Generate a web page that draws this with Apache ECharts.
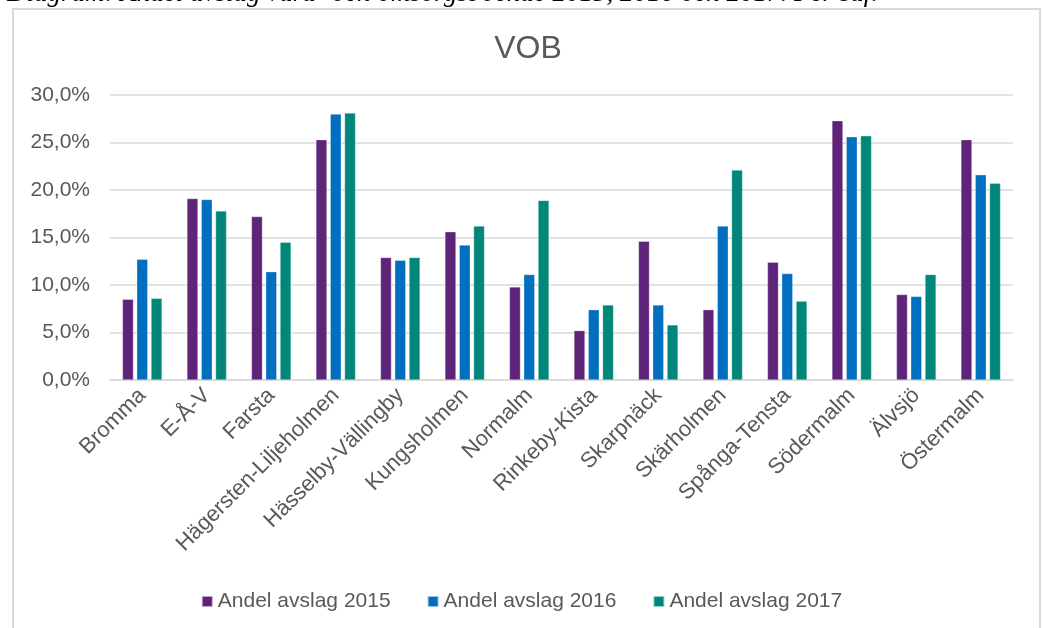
<!DOCTYPE html>
<html>
<head>
<meta charset="utf-8">
<script src="https://cdn.jsdelivr.net/npm/echarts@6/dist/echarts.min.js"></script>
<style>
html,body{margin:0;padding:0;background:#fff;}
#main{width:1043px;height:628px;}
</style>
</head>
<body>
<div id="main"></div>
<script>
const categories = ['Bromma','E-Å-V','Farsta','Hägersten-Liljeholmen','Hässelby-Vällingby','Kungsholmen','Normalm','Rinkeby-Kista','Skarpnäck','Skärholmen','Spånga-Tensta','Södermalm','Älvsjö','Östermalm'];
const seriesNames = ['Andel avslag 2015','Andel avslag 2016','Andel avslag 2017'];
const values2015 = [8.5, 19.1, 17.2, 25.3, 12.9, 15.6, 9.8, 5.2, 14.6, 7.4, 12.4, 27.3, 9.0, 25.3];
const values2016 = [12.7, 19.0, 11.4, 28.0, 12.6, 14.2, 11.1, 7.4, 7.9, 16.2, 11.2, 25.6, 8.8, 21.6];
const values2017 = [8.6, 17.8, 14.5, 28.1, 12.9, 16.2, 18.9, 7.9, 5.8, 22.1, 8.3, 25.7, 11.1, 20.7];
const yTicks = [0, 5, 10, 15, 20, 25, 30];
const captionText = 'Diagram: Andel avslag vård- och omsorgsboende 2015, 2016 och 2017. Per sdf.';
const titleText = 'VOB';
const colors = ['#5E2479', '#006FC0', '#00877A'];

const chart = echarts.init(document.getElementById('main'));
const textColor = '#595959';
const font = 'Liberation Sans, Arial, sans-serif';

chart.setOption({
  animation: false,
  color: colors,
  title: {
    text: titleText,
    left: 523,
    textAlign: 'center',
    top: 28,
    textStyle: {fontFamily: font, fontSize: 32, fontWeight: 'normal', color: textColor}
  },
  graphic: [
    {type: 'rect', shape: {x: 13, y: 9, width: 1027, height: 700}, style: {fill: 'none', stroke: '#d9d9d9', lineWidth: 2}, z: 0},
    {type: 'text', style: {x: 7, y: 7, text: captionText, font: 'italic 27px "Liberation Serif", "Times New Roman", serif', fill: '#000', textVerticalAlign: 'bottom'}, z: 10}
  ],
  legend: {
    data: seriesNames,
    bottom: 11,
    left: 'center',
    itemWidth: 11,
    itemHeight: 11,
    itemGap: 36,
    icon: 'rect',
    textStyle: {fontFamily: font, fontSize: 21, color: textColor}
  },
  grid: {left: 110, right: 30, top: 95, bottom: 248, containLabel: false},
  xAxis: {
    type: 'category',
    data: categories,
    axisTick: {show: false},
    axisLine: {lineStyle: {color: '#d9d9d9', width: 1.5}},
    axisLabel: {rotate: 45, interval: 0, fontFamily: font, fontSize: 22, color: textColor, margin: 12}
  },
  yAxis: {
    type: 'value',
    min: yTicks[0],
    max: yTicks[yTicks.length - 1],
    interval: yTicks[1] - yTicks[0],
    axisLine: {show: false},
    axisTick: {show: false},
    splitLine: {lineStyle: {color: '#d9d9d9', width: 1.5}},
    axisLabel: {
      fontFamily: font, fontSize: 21, color: textColor, margin: 20,
      formatter: v => v.toFixed(1).replace('.', ',') + '%'
    }
  },
  series: [values2015, values2016, values2017].map((vals, i) => ({
    name: seriesNames[i],
    type: 'bar',
    data: vals,
    barWidth: 11,
    barGap: '30%',
    itemStyle: {color: colors[i], borderColor: 'rgba(255,255,255,0.6)', borderWidth: 0.5}
  }))
});
</script>
</body>
</html>
